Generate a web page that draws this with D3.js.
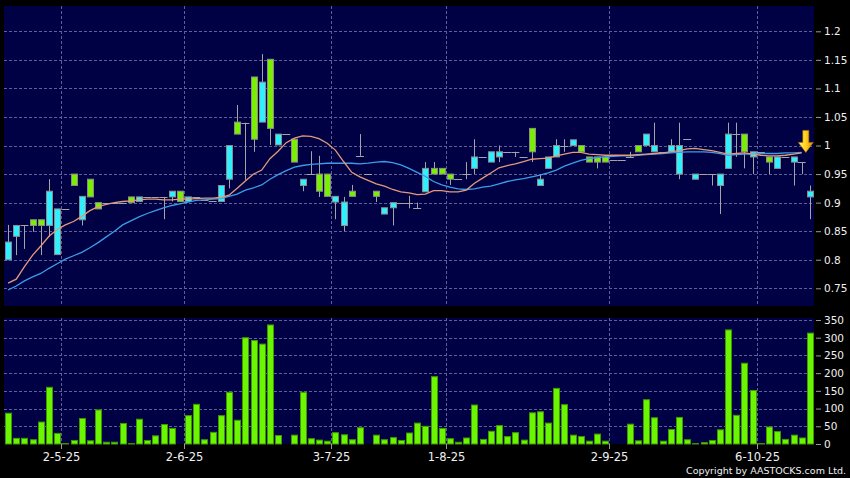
<!DOCTYPE html>
<html>
<head>
<meta charset="utf-8">
<script src="https://cdn.jsdelivr.net/npm/d3@7"></script>
<style>
  body { margin: 0; background: #000; }
  #chart { width: 850px; height: 478px; }
  text { font-family: "DejaVu Sans", sans-serif; fill: #f0f0f0; }
</style>
</head>
<body>
<div id="chart"></div>
<script>

// daily prices
var opens = [0.800,0.841,0.860,0.870,0.870,0.860,0.809,0.889,0.950,0.870,
  0.941,0.900,0.900,0.900,0.900,0.910,0.902,0.910,0.910,0.910,
  0.910,0.920,0.902,0.910,0.905,0.902,0.902,0.941,1.041,1.040,
  1.120,1.041,1.151,1.001,1.020,1.011,0.930,0.950,0.950,0.950,
  0.901,0.860,0.920,0.982,0.950,0.920,0.880,0.891,0.900,0.900,
  0.890,0.919,0.960,0.960,0.950,0.941,0.950,0.960,0.980,0.971,
  0.980,0.989,0.989,0.980,1.030,0.930,0.960,0.980,1.000,1.000,
  1.000,0.980,0.980,0.980,0.975,0.975,0.980,1.000,1.000,0.989,
  0.989,0.989,0.950,1.011,0.941,0.950,0.950,0.930,0.960,1.020,
  1.020,0.980,0.989,0.980,0.960,0.980,0.971,0.971,0.910];
var highs = [0.861,0.861,0.860,0.870,0.870,0.941,0.889,0.889,0.950,0.911,
  0.941,0.900,0.900,0.900,0.900,0.910,0.910,0.910,0.910,0.910,
  0.920,0.920,0.910,0.910,0.905,0.902,0.930,1.000,1.071,1.040,
  1.120,1.160,1.151,1.020,1.020,1.011,0.941,0.990,0.982,0.950,
  0.911,0.910,0.931,1.020,0.950,0.920,0.891,0.900,0.900,0.912,
  0.900,0.971,0.971,0.960,0.950,0.941,0.971,1.011,0.980,0.989,
  1.000,0.989,0.989,0.980,1.030,0.950,0.980,1.011,1.011,1.010,
  1.000,0.980,0.980,0.980,0.975,0.975,0.989,1.000,1.020,1.040,
  0.989,1.011,1.040,1.011,0.950,0.950,0.950,0.950,1.040,1.040,
  1.020,0.989,0.989,0.980,0.980,0.980,0.980,0.971,0.930];
var lows = [0.800,0.808,0.819,0.849,0.808,0.840,0.809,0.889,0.930,0.860,
  0.910,0.889,0.900,0.900,0.900,0.900,0.902,0.910,0.910,0.871,
  0.902,0.902,0.902,0.910,0.905,0.902,0.902,0.925,1.020,0.940,
  0.989,1.041,1.001,1.001,1.020,0.971,0.920,0.950,0.910,0.911,
  0.871,0.850,0.911,0.982,0.950,0.901,0.880,0.860,0.900,0.890,
  0.890,0.919,0.950,0.950,0.931,0.941,0.941,0.950,0.980,0.971,
  0.971,0.989,0.980,0.980,0.971,0.930,0.960,0.980,0.989,1.000,
  0.989,0.971,0.960,0.971,0.975,0.975,0.980,0.989,1.000,0.989,
  0.989,0.989,0.941,1.011,0.941,0.950,0.930,0.880,0.960,0.980,
  0.960,0.950,0.989,0.950,0.960,0.980,0.930,0.950,0.871];
var closes = [0.831,0.860,0.860,0.860,0.860,0.920,0.889,0.889,0.930,0.911,
  0.910,0.889,0.900,0.900,0.900,0.900,0.910,0.910,0.910,0.910,
  0.920,0.902,0.910,0.910,0.905,0.902,0.930,1.000,1.020,1.040,
  1.011,1.111,1.030,1.020,1.020,0.971,0.941,0.950,0.920,0.911,
  0.911,0.901,0.911,0.982,0.950,0.911,0.891,0.900,0.900,0.900,
  0.890,0.960,0.950,0.950,0.941,0.941,0.950,0.980,0.980,0.989,
  0.989,0.989,0.989,0.980,0.989,0.941,0.980,1.000,1.000,1.010,
  0.989,0.971,0.971,0.971,0.975,0.975,0.980,0.989,1.020,1.000,
  0.989,1.000,1.000,1.011,0.950,0.950,0.950,0.950,1.020,1.020,
  0.989,0.989,0.989,0.971,0.980,0.980,0.980,0.971,0.920];

// volume (thousand shares)
var volumes = [87,16,16,12,62,160,30,1,10,72,
  9,96,5,5,58,1,70,10,23,55,
  44,0,80,112,12,33,80,146,67,300,
  292,282,336,24,0,25,146,15,11,8,
  32,26,12,46,0,25,12,18,10,31,
  59,50,190,44,15,5,17,110,13,36,
  52,21,32,11,88,91,59,157,111,25,
  21,8,28,8,0,0,56,9,125,74,
  8,41,75,12,1,4,10,40,322,81,
  228,151,1,48,35,13,25,17,313];

// moving averages as drawn (orange and blue)
var maFast = [0.759,0.766,0.788,0.808,0.824,0.841,0.853,0.861,0.867,0.876,
  0.886,0.893,0.897,0.900,0.902,0.903,0.905,0.906,0.906,0.905,
  0.905,0.906,0.906,0.907,0.908,0.908,0.909,0.913,0.925,0.938,
  0.950,0.957,0.977,0.990,1.005,1.013,1.017,1.016,1.012,1.004,
  0.992,0.972,0.953,0.945,0.939,0.933,0.929,0.923,0.919,0.917,
  0.914,0.915,0.921,0.921,0.919,0.919,0.922,0.934,0.943,0.952,
  0.961,0.965,0.968,0.972,0.976,0.977,0.978,0.982,0.985,0.988,
  0.988,0.985,0.984,0.983,0.983,0.983,0.983,0.984,0.985,0.986,
  0.987,0.989,0.991,0.994,0.995,0.993,0.991,0.988,0.985,0.986,
  0.987,0.985,0.983,0.982,0.982,0.983,0.985,0.987];
var maSlow = [0.747,0.754,0.763,0.770,0.776,0.785,0.793,0.801,0.807,0.813,
  0.821,0.830,0.840,0.850,0.861,0.868,0.875,0.881,0.886,0.891,
  0.895,0.898,0.901,0.904,0.905,0.906,0.907,0.911,0.915,0.922,
  0.926,0.931,0.941,0.949,0.956,0.962,0.965,0.967,0.968,0.969,
  0.969,0.969,0.969,0.968,0.969,0.971,0.972,0.970,0.966,0.960,
  0.953,0.946,0.937,0.931,0.927,0.924,0.923,0.924,0.927,0.929,
  0.933,0.937,0.940,0.942,0.945,0.948,0.952,0.957,0.964,0.969,
  0.974,0.977,0.979,0.980,0.981,0.982,0.982,0.983,0.984,0.985,
  0.986,0.987,0.988,0.989,0.989,0.989,0.988,0.986,0.983,0.984,
  0.985,0.985,0.986,0.986,0.986,0.987,0.987,0.988];

// date labels and the day they sit on
var dateIndex = [7, 22, 40, 54, 74, 92];
var dateLabels = ["2-5-25", "2-6-25", "3-7-25", "1-8-25", "2-9-25", "6-10-25"];
var priceTicks = [0.75, 0.8, 0.85, 0.9, 0.95, 1, 1.05, 1.1, 1.15, 1.2];
var volumeTicks = [0, 50, 100, 150, 200, 250, 300, 350];

var width = 850, height = 478;
var left = 4, right = 814;
var priceTop = 6, priceBottom = 306;
var volTop = 318, volBottom = 444;

var svg = d3.select("#chart").append("svg")
            .attr("width", width)
            .attr("height", height);

svg.append("rect")
   .attr("width", width)
   .attr("height", height)
   .attr("fill", "#000");

// scales
var x = d3.scaleBand()
          .domain(d3.range(closes.length))
          .range([left, right]);
var cx = function(i) { return x(i) + x.bandwidth() / 2; };

var y = d3.scaleLinear()
          .domain([0.75, 1.2])
          .range([288.3, 31.3]);

var yVol = d3.scaleLinear()
             .domain([0, 350])
             .range([volBottom, 320]);

// panels
svg.append("rect")
   .attr("x", left).attr("y", priceTop)
   .attr("width", right - left).attr("height", priceBottom - priceTop)
   .attr("fill", "#000044");
svg.append("rect")
   .attr("x", left).attr("y", volTop)
   .attr("width", right - left).attr("height", volBottom - volTop)
   .attr("fill", "#000044");

var gridColor = "#5e5e98";

// horizontal grid
svg.append("g")
   .selectAll("line")
   .data(priceTicks)
   .enter().append("line")
   .attr("x1", left).attr("x2", right)
   .attr("y1", function(d) { return Math.round(y(d)) + 0.5; })
   .attr("y2", function(d) { return Math.round(y(d)) + 0.5; })
   .attr("stroke", gridColor)
   .attr("stroke-dasharray", "3,2");

svg.append("g")
   .selectAll("line")
   .data(volumeTicks.slice(1))
   .enter().append("line")
   .attr("x1", left).attr("x2", right)
   .attr("y1", function(d) { return Math.round(yVol(d)) + 0.5; })
   .attr("y2", function(d) { return Math.round(yVol(d)) + 0.5; })
   .attr("stroke", gridColor)
   .attr("stroke-dasharray", "3,2");

// vertical grid in both panels
[[priceTop, priceBottom], [volTop, volBottom]].forEach(function(p) {
  svg.append("g")
     .selectAll("line")
     .data(dateIndex)
     .enter().append("line")
     .attr("x1", function(d) { return Math.round(x(d)) + 0.5; })
     .attr("x2", function(d) { return Math.round(x(d)) + 0.5; })
     .attr("y1", p[0]).attr("y2", p[1])
     .attr("stroke", gridColor)
     .attr("stroke-dasharray", "3,2");
});

// candles
var days = d3.range(closes.length);
var candles = svg.append("g").attr("class", "candles");

candles.selectAll("line.wick")
       .data(days)
       .enter().append("line")
       .attr("class", "wick")
       .attr("x1", function(i) { return Math.round(cx(i)) + 0.5; })
       .attr("x2", function(i) { return Math.round(cx(i)) + 0.5; })
       .attr("y1", function(i) { return y(highs[i]); })
       .attr("y2", function(i) { return y(lows[i]); })
       .attr("stroke", "#a4a4a4");

// flat days get a short dash
candles.selectAll("line.flat")
       .data(days.filter(function(i) { return Math.abs(opens[i] - closes[i]) < 0.002; }))
       .enter().append("line")
       .attr("class", "flat")
       .attr("x1", function(i) { return cx(i) - 4; })
       .attr("x2", function(i) { return cx(i) + 4; })
       .attr("y1", function(i) { return Math.round(y(closes[i])) + 0.5; })
       .attr("y2", function(i) { return Math.round(y(closes[i])) + 0.5; })
       .attr("stroke", "#a4a4a4");

candles.selectAll("rect")
       .data(days.filter(function(i) { return Math.abs(opens[i] - closes[i]) >= 0.002; }))
       .enter().append("rect")
       .attr("x", function(i) { return Math.round(cx(i)) - 2.5; })
       .attr("width", 6)
       .attr("y", function(i) { return y(Math.max(opens[i], closes[i])); })
       .attr("height", function(i) { return Math.abs(y(opens[i]) - y(closes[i])); })
       .attr("fill", function(i) { return closes[i] > opens[i] ? "#2ef0ff" : "#78f000"; })
       .attr("stroke", "#8c8c8c");

// moving averages
var line = function(values) {
  return d3.line()
           .x(function(d, i) { return cx(i); })
           .y(function(d) { return y(d); })(values);
};

svg.append("path")
   .attr("d", line(maSlow))
   .attr("fill", "none")
   .attr("stroke", "#3c9ce8")
   .attr("stroke-width", 1.3);

svg.append("path")
   .attr("d", line(maFast))
   .attr("fill", "none")
   .attr("stroke", "#e49a78")
   .attr("stroke-width", 1.3);

// latest-price marker
var last = maSlow.length - 1;
var ax = (cx(last) + cx(last + 1)) / 2, ay = y(maSlow[last]);
var grad = svg.append("defs").append("linearGradient")
              .attr("id", "arrowFill")
              .attr("x1", "0").attr("x2", "1").attr("y1", "0").attr("y2", "0");
grad.append("stop").attr("offset", "0").attr("stop-color", "#fff27a");
grad.append("stop").attr("offset", "0.5").attr("stop-color", "#ffd21e");
grad.append("stop").attr("offset", "1").attr("stop-color", "#d88a00");

svg.append("path")
   .attr("d", "M" + (ax - 3) + "," + (ay - 22) + "h6v12h4.5l-7.5,10l-7.5,-10h4.5z")
   .attr("fill", "url(#arrowFill)")
   .attr("stroke", "#b87400")
   .attr("stroke-width", 0.6);

// volume bars
svg.append("g")
   .selectAll("rect")
   .data(days)
   .enter().append("rect")
   .attr("x", function(i) { return Math.round(cx(i)) - 2.5; })
   .attr("width", 6)
   .attr("y", function(i) { return yVol(volumes[i]); })
   .attr("height", function(i) { return volBottom - yVol(volumes[i]); })
   .attr("fill", "#6cf500")
   .attr("stroke", "#3c9a00");

// right price axis
var priceAxis = svg.append("g")
                   .attr("transform", "translate(816,0)")
                   .call(d3.axisRight(y)
                           .tickValues(priceTicks)
                           .tickSize(5)
                           .tickPadding(3)
                           .tickFormat(d3.format("~g")));
priceAxis.select(".domain").remove();
priceAxis.selectAll("line").attr("stroke", "#9a9a9a");
priceAxis.selectAll("text")
         .attr("fill", "#f0f0f0")
         .style("font-size", "10.5px")
         .style("font-family", "DejaVu Sans, sans-serif");

// right volume axis
var volAxis = svg.append("g")
                 .attr("transform", "translate(816,0)")
                 .call(d3.axisRight(yVol)
                         .tickValues(volumeTicks)
                         .tickSize(5)
                         .tickPadding(3));
volAxis.select(".domain").remove();
volAxis.selectAll("line").attr("stroke", "#9a9a9a");
volAxis.selectAll("text")
       .attr("fill", "#f0f0f0")
       .style("font-size", "10.5px")
       .style("font-family", "DejaVu Sans, sans-serif");

// date axis under the volume panel
var dateAxis = svg.append("g")
                  .attr("transform", "translate(0," + volBottom + ")")
                  .call(d3.axisBottom(x)
                          .tickValues(dateIndex)
                          .tickSize(5)
                          .tickPadding(4)
                          .tickFormat(function(d, i) { return dateLabels[i]; }));
dateAxis.select(".domain").remove();
dateAxis.selectAll(".tick")
        .attr("transform", function(d) { return "translate(" + (Math.round(x(d)) + 0.5) + ",0)"; });
dateAxis.selectAll("line").attr("stroke", "#9a9a9a");
dateAxis.selectAll("text")
        .attr("fill", "#f0f0f0")
        .style("font-size", "11.5px")
        .style("font-family", "DejaVu Sans, sans-serif");

svg.append("text")
   .attr("x", 846)
   .attr("y", 474)
   .attr("text-anchor", "end")
   .style("font-size", "9.5px")
   .text("Copyright by AASTOCKS.com Ltd.");

</script>
</body>
</html>
